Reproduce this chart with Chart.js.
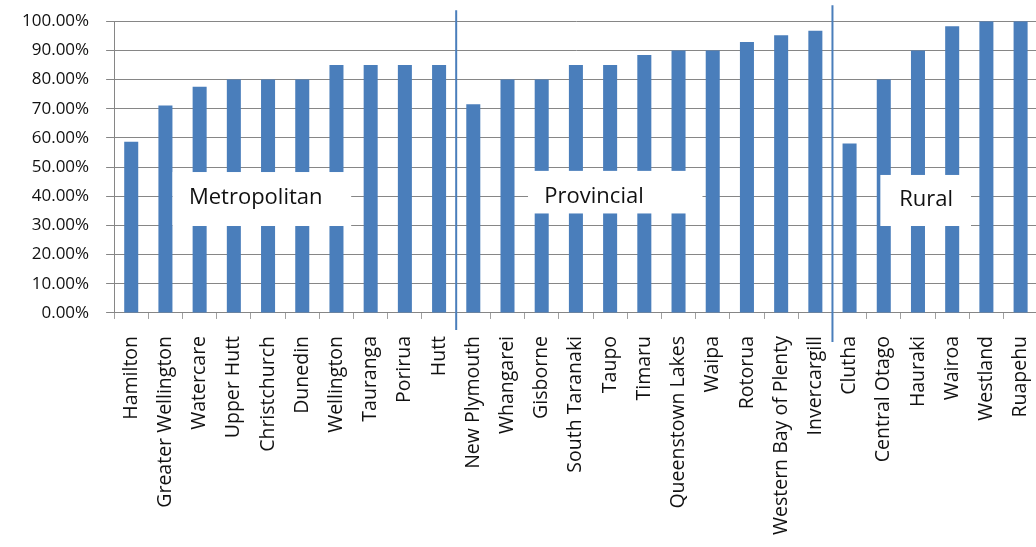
<!DOCTYPE html>
<html lang="en">
  <head>
    <meta charset="UTF-8" />
    <script src="https://cdn.jsdelivr.net/npm/chart.js"></script>
    <title>Councils</title>
    <style>
      html, body { margin: 0; padding: 0; background: #fff; overflow: hidden; }
      #wrap { width: 1061px; height: 556px; margin-top: -6px; }
    </style>
  </head>
  <body>
    <div id="wrap"><canvas id="grafico"></canvas></div>

    <script>
      // categorias e valores (%)
      var councils = [
        "Hamilton", "Greater Wellington", "Watercare", "Upper Hutt", "Christchurch",
        "Dunedin", "Wellington", "Tauranga", "Porirua", "Hutt",
        "New Plymouth", "Whangarei", "Gisborne", "South Taranaki", "Taupo",
        "Timaru", "Queenstown Lakes", "Waipa", "Rotorua", "Western Bay of Plenty",
        "Invercargill",
        "Clutha", "Central Otago", "Hauraki", "Wairoa", "Westland", "Ruapehu"
      ];
      var percent = [
        58.7, 71.1, 77.5, 80, 80, 80, 85, 85, 85, 85,
        71.5, 80, 80, 85, 85, 88.4, 90, 90, 92.9, 95.2, 96.7,
        58.1, 80, 90, 98.3, 100, 100
      ];
      var groupNames = ["Metropolitan", "Provincial", "Rural"];
      // index of the last council in each group (divider after it)
      var groupEnds = [9, 20];

      var azul = "#4a7ebb";

      // white label boxes: category units from left edge, value range
      var boxes = [
        { text: groupNames[0], x0: 1.71, x1: 6.93, top: 48.3, bottom: 29.8, tx: 4.14, ty: 39.4 },
        { text: groupNames[1], x0: 12.1, x1: 17.2, top: 48.7, bottom: 34.1, tx: 14.03, ty: 39.7 },
        { text: groupNames[2], x0: 22.4, x1: 25.05, top: 47.3, bottom: 29.8, tx: 23.74, ty: 38.7 }
      ];

      var grupos = {
        id: "grupos",
        afterDatasetsDraw: function (chart) {
          var ctx = chart.ctx;
          var xs = chart.scales.x;
          var ys = chart.scales.y;
          var area = chart.chartArea;
          var w = xs.getPixelForValue(1) - xs.getPixelForValue(0);
          var start = xs.getPixelForValue(0) - w / 2;
          ctx.save();
          boxes.forEach(function (b) {
            var l = start + b.x0 * w;
            var r = start + b.x1 * w;
            var t = ys.getPixelForValue(b.top);
            var bo = ys.getPixelForValue(b.bottom);
            ctx.fillStyle = "#ffffff";
            ctx.fillRect(l, t, r - l, bo - t);
            ctx.fillStyle = "#111111";
            ctx.font = "22px 'Open Sans'";
            ctx.textAlign = "center";
            ctx.textBaseline = "middle";
            ctx.fillText(b.text, start + b.tx * w, ys.getPixelForValue(b.ty));
          });
          // divisores
          ctx.strokeStyle = azul;
          ctx.lineWidth = 2;
          var ext = [[11, 17], [16, 29]];
          groupEnds.forEach(function (idx, k) {
            var x = (xs.getPixelForValue(idx) + xs.getPixelForValue(idx + 1)) / 2;
            ctx.beginPath();
            ctx.moveTo(x, area.top - ext[k][0]);
            ctx.lineTo(x, area.bottom + ext[k][1]);
            ctx.stroke();
          });
          ctx.restore();
        }
      };

      new Chart(document.getElementById("grafico"), {
        type: "bar",
        data: {
          labels: councils,
          datasets: [
            {
              data: percent,
              backgroundColor: azul,
              barPercentage: 0.41,
              categoryPercentage: 1
            }
          ]
        },
        options: {
          responsive: true,
          maintainAspectRatio: false,
          animation: false,
          layout: { padding: { top: 6, left: 5, right: 0, bottom: -2 } },
          plugins: {
            legend: { display: false },
            tooltip: { enabled: false }
          },
          scales: {
            x: {
              grid: {
                drawOnChartArea: false,
                drawTicks: true,
                tickLength: 6,
                color: "#a0a0a0",
                offset: true
              },
              border: { color: "#868686" },
              ticks: {
                minRotation: 90,
                maxRotation: 90,
                autoSkip: false,
                padding: 17,
                color: "#111111",
                font: { family: "'Open Sans'", size: 19.5 }
              }
            },
            y: {
              min: 0,
              max: 100,
              grid: { color: "#868686", tickLength: 8 },
              border: { color: "#868686" },
              ticks: {
                stepSize: 10,
                padding: 17,
                color: "#111111",
                font: { family: "'Open Sans'", size: 17 },
                callback: function (v) { return v.toFixed(2) + "%"; }
              }
            }
          }
        },
        plugins: [grupos]
      });
    </script>
  </body>
</html>
